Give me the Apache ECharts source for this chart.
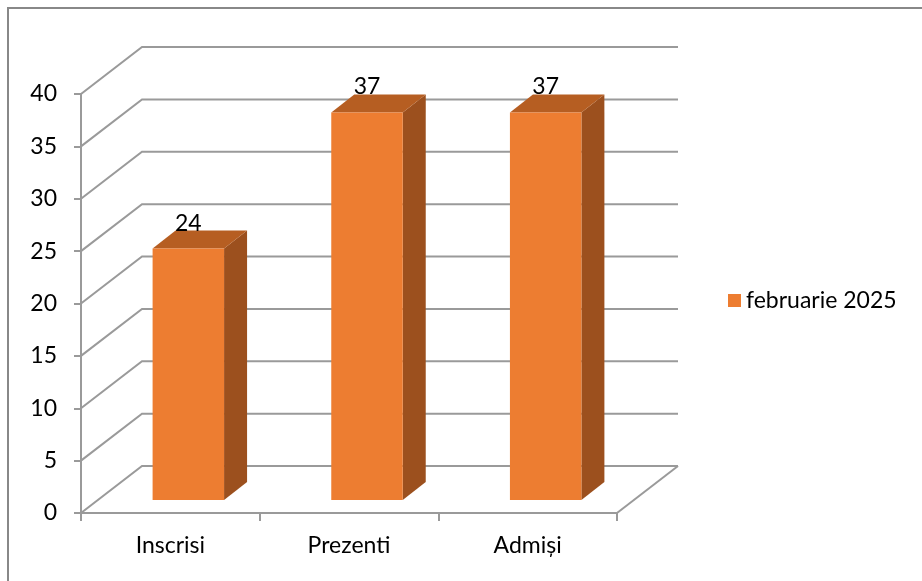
<!DOCTYPE html>
<html>
<head>
<meta charset="utf-8">
<script src="https://cdn.jsdelivr.net/npm/echarts@6/dist/echarts.min.js"></script>
<style>
html,body{margin:0;padding:0;background:#fff;}
#chart{width:922px;height:581px;}
</style>
</head>
<body>
<div id="chart"></div>
<script>
const categories = ['Inscrisi', 'Prezenti', 'Admiși'];
const values = [24, 37, 37];
const yTicks = [0, 5, 10, 15, 20, 25, 30, 35, 40];
const seriesName = 'februarie 2025';

// 3D look (style only)
const WALL_DX = 61, WALL_DY = -47;
const BAR_OX = 17, BAR_OY = -13;
const BAR_DX = 23, BAR_DY = -18;
const GRID_COLOR = '#9a9a9a';
const FONT = 'Lato, "Open Sans", sans-serif';
const FS = 23;

const chart = echarts.init(document.getElementById('chart'), null, {renderer: 'canvas'});

function renderGrid(params, api) {
  const cs = params.coordSys;
  const v = api.value(1);
  const y = api.coord([0, v])[1];
  const x0 = cs.x, x1 = cs.x + cs.width;
  const style = {stroke: GRID_COLOR, lineWidth: 2, fill: null};
  const children = [{
    type: 'polyline',
    shape: {points: [[x0, y], [x0 + WALL_DX, y + WALL_DY], [x1 + WALL_DX, y + WALL_DY]]},
    style: style
  }];
  if (v === 0) {
    children.push({
      type: 'line',
      shape: {x1: x1, y1: y, x2: x1 + WALL_DX, y2: y + WALL_DY},
      style: style
    });
  }
  return {type: 'group', children: children};
}

function renderBar(params, api) {
  const i = api.value(0), v = api.value(1);
  const base = api.coord([i, 0]);
  const top = api.coord([i, v]);
  const bw = api.size([1, 0])[0] * 0.4;
  const xl = base[0] - bw / 2 + BAR_OX + 1;
  const xr = xl + bw;
  const yb = base[1] + BAR_OY;
  const yt = top[1] + BAR_OY;
  return {
    type: 'group',
    children: [
      {type: 'polygon', shape: {points: [[xr, yb], [xr, yt], [xr + BAR_DX, yt + BAR_DY], [xr + BAR_DX, yb + BAR_DY]]},
        style: {fill: '#9C501E'}},
      {type: 'polygon', shape: {points: [[xl, yt], [xr, yt], [xr + BAR_DX, yt + BAR_DY], [xl + BAR_DX, yt + BAR_DY]]},
        style: {fill: '#B65E22'}},
      {type: 'rect', shape: {x: xl, y: yt, width: bw, height: yb - yt},
        style: {fill: '#ED7D31'}},
      {type: 'text', x: xl + bw / 2, y: yt + BAR_DY + 4,
        style: {text: String(v), fill: '#000', font: FS + 'px ' + FONT, align: 'center', verticalAlign: 'bottom'}}
    ]
  };
}

const option = {
  animation: false,
  backgroundColor: '#fff',
  textStyle: {fontFamily: FONT},
  grid: {left: 81, top: 94, right: 305, bottom: 68, containLabel: false},
  legend: {
    left: 723, top: 284,
    itemWidth: 13, itemHeight: 13, itemGap: 10,
    textStyle: {fontSize: FS, color: '#000', fontFamily: FONT},
    data: [{name: seriesName, icon: 'rect', itemStyle: {color: '#ED7D31'}}]
  },
  xAxis: {
    type: 'category',
    data: categories,
    boundaryGap: true,
    axisLine: {show: true, lineStyle: {color: GRID_COLOR, width: 2}},
    axisTick: {show: true, length: 8, lineStyle: {color: GRID_COLOR, width: 2}},
    axisLabel: {fontSize: FS, color: '#000', margin: 21, fontFamily: FONT},
    splitLine: {show: false}
  },
  yAxis: {
    type: 'value',
    min: 0, max: 40, interval: 5,
    axisLine: {show: true, lineStyle: {color: GRID_COLOR, width: 2}},
    axisTick: {show: true, length: 7, lineStyle: {color: GRID_COLOR, width: 2}},
    axisLabel: {fontSize: FS, color: '#000', margin: 24, fontFamily: FONT},
    splitLine: {show: false}
  },
  graphic: [{
    type: 'rect', z: 100,
    shape: {x: 8, y: 8, width: 1000, height: 1000},
    style: {fill: null, stroke: '#888', lineWidth: 2}
  }],
  series: [
    {
      type: 'custom', name: '_grid', silent: true, clip: false, z: 1,
      renderItem: renderGrid,
      encode: {x: 0, y: 1},
      data: yTicks.map(v => [0, v])
    },
    {
      type: 'custom', name: seriesName, clip: false, z: 2,
      itemStyle: {color: '#ED7D31'},
      renderItem: renderBar,
      encode: {x: 0, y: 1},
      data: values.map((v, i) => [i, v])
    }
  ]
};
chart.setOption(option);
</script>
</body>
</html>
